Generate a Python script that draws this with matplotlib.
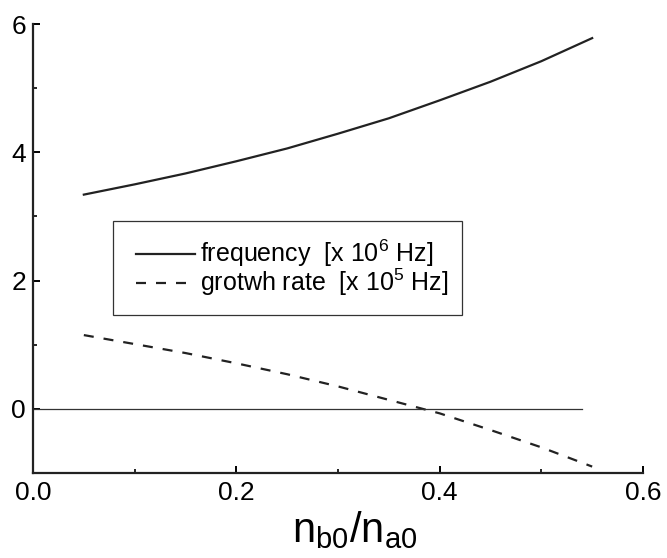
import numpy as np
import matplotlib
matplotlib.use("Agg")
import matplotlib.pyplot as plt
from matplotlib.ticker import MultipleLocator
from matplotlib.patches import Rectangle

plt.rcParams['font.family'] = ['Liberation Sans', 'DejaVu Sans']
plt.rcParams['mathtext.fontset'] = 'custom'
plt.rcParams['mathtext.rm'] = 'Liberation Sans'
plt.rcParams['mathtext.it'] = 'Liberation Sans'
plt.rcParams['mathtext.default'] = 'regular'

# density ratio n_b0/n_a0
ratio = [0.05, 0.10, 0.15, 0.20, 0.25, 0.30, 0.35, 0.40, 0.45, 0.50, 0.55]
# frequency [x 1e6 Hz]
frequency = [3.34, 3.50, 3.67, 3.86, 4.06, 4.29, 4.53, 4.81, 5.10, 5.42, 5.78]
# growth rate [x 1e5 Hz]
growth = [1.15, 1.01, 0.87, 0.71, 0.54, 0.35, 0.14, -0.07, -0.33, -0.60, -0.90]
# zero reference line
zero_x = [0.0, 0.54]
zero_y = [0.0, 0.0]

W, H = 667, 558
fig = plt.figure(figsize=(W/100, H/100), dpi=100)
ax = fig.add_axes([33/W, 1 - 473/H, 610/W, 449/H])

ax.plot(ratio, frequency, color='#222222', lw=1.6, label='frequency  [x 10$^6$ Hz]')
ax.plot(ratio, growth, color='#222222', lw=1.6, ls=(0, (4.5, 4.5)),
        label='grotwh rate  [x 10$^5$ Hz]')
ax.plot(zero_x, zero_y, color='#333333', lw=0.9)

ax.set_xlim(0, 0.6)
ax.set_ylim(-1, 6)
ax.xaxis.set_minor_locator(MultipleLocator(0.1))
ax.yaxis.set_minor_locator(MultipleLocator(1))
ax.set_xticks([0.0, 0.2, 0.4, 0.6])
ax.set_xticklabels(['0.0', '0.2', '0.4', '0.6'])
ax.set_yticks([0, 2, 4, 6])

for s in ['top', 'right']:
    ax.spines[s].set_visible(False)
for s in ['left', 'bottom']:
    ax.spines[s].set_linewidth(1.6)
    ax.spines[s].set_color('#222222')

ax.tick_params(which='major', direction='in', length=5, width=1.4, labelsize=19, pad=6)
ax.tick_params(which='minor', direction='in', length=3, width=1.2)
ax.tick_params(axis='y', pad=5)

ax.set_xlabel(r'$\mathrm{n_{b0}/n_{a0}}$', fontsize=30)
ax.xaxis.set_label_coords((355 - 33)/610, -0.08)
ax.xaxis.label.set_va('top')

# legend entries, no frame; frame drawn as its own box
leg = ax.legend(loc='upper left', bbox_to_anchor=(136/W, 1 - 238/H),
                bbox_transform=fig.transFigure, fontsize=18, frameon=False,
                borderaxespad=0, borderpad=0,
                handlelength=2.35, handletextpad=0.22,
                labelspacing=-0.1, handleheight=0.7)
box = Rectangle((113/W, 1 - 315/H), 349/W, 94/H, transform=fig.transFigure,
                fill=False, lw=0.9, ec='#333333', zorder=3)
fig.add_artist(box)

fig.savefig('out.png', dpi=100)
